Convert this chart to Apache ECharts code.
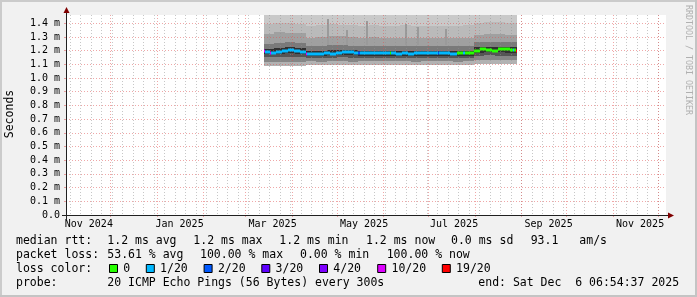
<!DOCTYPE html>
<html><head><meta charset="utf-8">
<script src="https://cdn.jsdelivr.net/npm/echarts@6/dist/echarts.min.js"></script>
<style>html,body{margin:0;padding:0;background:#f1f1f1}#c{width:697px;height:297px}</style>
</head><body><div id="c"></div><script>
// ---------- data ----------
const viewStart = '2024-11-01T06:54:37';
const viewEnd = '2025-12-06T06:54:37';
const yTicks = [0, 0.1, 0.2, 0.3, 0.4, 0.5, 0.6, 0.7, 0.8, 0.9, 1.0, 1.1, 1.2, 1.3, 1.4];
const yTickLabels = ['0.0', '0.1 m', '0.2 m', '0.3 m', '0.4 m', '0.5 m', '0.6 m', '0.7 m', '0.8 m', '0.9 m', '1.0 m', '1.1 m', '1.2 m', '1.3 m', '1.4 m'];
const yMax = 1.46;
const xLabelDates = ['2024-11-16T12:00:00', '2025-01-16T00:00:00', '2025-03-19T00:00:00', '2025-05-19T00:00:00', '2025-07-18T00:00:00', '2025-09-19T00:00:00', '2025-11-19T00:00:00'];
const xLabels = ['Nov 2024', 'Jan 2025', 'Mar 2025', 'May 2025', 'Jul 2025', 'Sep 2025', 'Nov 2025'];
const monthStarts = ['2024-12-01', '2025-01-01', '2025-02-01', '2025-03-01', '2025-04-01', '2025-05-01', '2025-06-01', '2025-07-01', '2025-08-01', '2025-09-01', '2025-10-01', '2025-11-01', '2025-12-01'];
const firstMonday = '2024-11-04';

// smoke (sorted ping distribution) per 7-day bucket
const smokeDates = ['2025-03-13','2025-03-20','2025-03-27','2025-04-03','2025-04-10','2025-04-17','2025-04-24','2025-05-01','2025-05-08','2025-05-15','2025-05-22','2025-05-29','2025-06-05','2025-06-12','2025-06-19','2025-06-26','2025-07-03','2025-07-10','2025-07-17','2025-07-24','2025-07-31','2025-08-07','2025-08-14','2025-08-21'];
const dataEnd = '2025-08-29T04:00:00';
const smokeMin    = [1.085,1.088,1.090,1.086, 1.096,1.094,1.097,1.095,1.093,1.096,1.094,1.097,1.095,1.096,1.094,1.096,1.095,1.097,1.094,1.096, 1.102,1.100,1.103,1.101];
const smokeLow    = [1.115,1.118,1.120,1.117, 1.122,1.120,1.124,1.121,1.119,1.123,1.121,1.124,1.122,1.121,1.120,1.123,1.121,1.122,1.120,1.121, 1.132,1.130,1.134,1.131];
const smokeLowMid = [1.150,1.152,1.155,1.151, 1.145,1.147,1.148,1.150,1.149,1.147,1.146,1.148,1.147,1.146,1.148,1.147,1.146,1.147,1.145,1.146, 1.162,1.165,1.163,1.164];
const smokeLowIn  = [1.175,1.178,1.182,1.176, 1.160,1.162,1.165,1.168,1.166,1.163,1.164,1.162,1.161,1.162,1.160,1.161,1.162,1.161,1.160,1.160, 1.185,1.188,1.187,1.186];
const smokeUpIn   = [1.215,1.222,1.225,1.218, 1.195,1.198,1.202,1.205,1.202,1.198,1.200,1.199,1.197,1.198,1.197,1.198,1.198,1.197,1.196,1.199, 1.228,1.230,1.229,1.228];
const smokeUpMid  = [1.250,1.258,1.262,1.252, 1.232,1.236,1.240,1.238,1.236,1.233,1.235,1.234,1.232,1.233,1.232,1.233,1.234,1.231,1.232,1.233, 1.262,1.265,1.263,1.261];
const smokeUpOut  = [1.320,1.335,1.330,1.325, 1.290,1.300,1.310,1.305,1.298,1.295,1.300,1.292,1.290,1.295,1.290,1.293,1.292,1.290,1.291,1.294, 1.315,1.320,1.318,1.312];
const smokeHigh   = [1.395,1.400,1.398,1.392, 1.380,1.385,1.392,1.388,1.384,1.380,1.386,1.382,1.381,1.384,1.380,1.383,1.382,1.380,1.381,1.384, 1.405,1.410,1.408,1.404];
const smokeMax    = [1.46,1.46,1.46,1.46, 1.46,1.46,1.46,1.46,1.46,1.46,1.46,1.46,1.46,1.46,1.46,1.46,1.46,1.46,1.46,1.46, 1.46,1.46,1.46,1.46];

// isolated tall smoke columns
const spikeDates = ['2025-04-24','2025-05-07','2025-05-20','2025-06-15','2025-06-23','2025-07-12'];
const spikeBase  = [1.24, 1.24, 1.24, 1.24, 1.24, 1.24];
const spikeTops  = [1.43, 1.35, 1.415, 1.395, 1.37, 1.36];

// median rtt segments (start date, value, lost pings of 20)
const medDates = ['2025-03-13','2025-03-14','2025-03-17','2025-03-18','2025-03-21','2025-03-25','2025-03-29','2025-04-02','2025-04-06','2025-04-10','2025-04-11','2025-04-14','2025-04-22','2025-04-26','2025-04-30','2025-05-04','2025-05-08','2025-05-12','2025-05-15','2025-05-16','2025-05-20','2025-05-24','2025-05-28','2025-06-01','2025-06-05','2025-06-06','2025-06-09','2025-06-13','2025-06-17','2025-06-21','2025-07-07','2025-07-08','2025-07-11','2025-07-15','2025-07-20','2025-07-24','2025-07-25','2025-07-31','2025-08-04','2025-08-08','2025-08-12','2025-08-16','2025-08-24','2025-08-26','2025-08-27','2025-08-28'];
const medVals  = [1.200,1.191,1.186,1.186,1.191,1.196,1.205,1.196,1.191,1.174,1.174,1.176,1.181,1.176,1.186,1.191,1.188,1.181,1.181,1.181,1.183,1.181,1.186,1.181,1.181,1.181,1.176,1.181,1.176,1.181,1.181,1.181,1.179,1.176,1.181,1.181,1.181,1.200,1.210,1.205,1.200,1.210,1.205,1.205,1.205,1.200];
const medLoss  = [10,1,10,1,1,1,1,1,1,10,1,1,1,1,1,1,1,1,2,1,1,1,1,1,0,1,1,1,1,1,2,1,1,1,0,1,0,0,0,0,0,0,0,1,0,19];

const lossLevels = [0, 1, 2, 3, 4, 10, 19];
const lossLabels = ['0', '1/20', '2/20', '3/20', '4/20', '10/20', '19/20'];
const lossColors = ['#26ff00', '#00b8ff', '#0059ff', '#5e00ff', '#7e00ff', '#dd00ff', '#ff0000'];

const legendRows = [
  [['median rtt:', 16], ['1.2 ms avg', 107.3], ['1.2 ms max', 193.3], ['1.2 ms min', 279.3], ['1.2 ms now', 366], ['0.0 ms sd', 451], ['93.1', 530.7], ['am/s', 579.3]],
  [['packet loss:', 16], ['53.61 % avg', 107.3], ['100.00 % max', 200], ['0.00 % min', 300], ['100.00 % now', 386.7]],
  [['loss color:', 16]],
  [['probe:', 16], ['20 ICMP Echo Pings (56 Bytes) every 300s', 107.3], ['end: Sat Dec  6 06:54:37 2025', 478.3]]
];
const lossBoxX = [109, 145.8, 203.6, 261.3, 319, 377.2, 441.8];
const rowY = [241, 255.3, 269, 283.3];

// ---------- build ----------
function T(s) { return Date.parse(s.length === 10 ? s + 'T00:00:00Z' : s + 'Z'); }
const DAY = 86400000;
const xMin = T(viewStart), xMax = T(viewEnd);
const mondays = [];
for (let v = T(firstMonday); v <= xMax; v += 7 * DAY) mondays.push(v);
const monthVals = monthStarts.map(T);
const labelVals = xLabelDates.map(T);

const smokeData = smokeDates.map((d, i) => [T(d), i + 1 < smokeDates.length ? T(smokeDates[i + 1]) : T(dataEnd),
  smokeMin[i], smokeLow[i], smokeLowMid[i], smokeLowIn[i], smokeUpIn[i], smokeUpMid[i], smokeUpOut[i], smokeHigh[i], smokeMax[i]]);
const smokeColors = ['#b2b2b2', '#868686', '#555555', '#303030', '#7a7a7a', '#a0a0a0', '#bababa', '#c9c9c9'];
const spikeData = spikeDates.map((d, i) => [T(d), T(d) + 1.3 * DAY, spikeBase[i], spikeTops[i]]);
const medData = medDates.map((d, i) => [T(d), i + 1 < medDates.length ? T(medDates[i + 1]) : T(dataEnd), medVals[i], medLoss[i]]);

const G = { left: 66, top: 15, width: 600, height: 200 };
const FONT = '"DejaVu Sans Mono", monospace';
const AXIS = '#202020';

function colorForLoss(l) { const k = lossLevels.indexOf(l); return lossColors[k < 0 ? 1 : k]; }

const chart = echarts.init(document.getElementById('c'), null, { renderer: 'canvas' });

const B = G.top + G.height;
const graphics = [
  { type: 'rect', shape: { x: 0, y: 0, width: 697, height: 2 }, style: { fill: '#cbcbcb' }, silent: true },
  { type: 'rect', shape: { x: 0, y: 0, width: 2, height: 297 }, style: { fill: '#cbcbcb' }, silent: true },
  { type: 'rect', shape: { x: 0, y: 295, width: 697, height: 2 }, style: { fill: '#c4c4c4' }, silent: true },
  { type: 'rect', shape: { x: 695, y: 0, width: 2, height: 297 }, style: { fill: '#c4c4c4' }, silent: true },
  // axis overshoots (rrdtool draws both axes 4px past the origin) and arrows
  { type: 'line', shape: { x1: G.left + 0.5, y1: G.top + 1, x2: G.left + 0.5, y2: G.top - 3 }, style: { stroke: AXIS, lineWidth: 1 }, z: 10 },
  { type: 'line', shape: { x1: G.left + 0.5, y1: B, x2: G.left + 0.5, y2: B + 4 }, style: { stroke: AXIS, lineWidth: 1 }, z: 10 },
  { type: 'line', shape: { x1: G.left - 4, y1: B + 0.5, x2: G.left + 1, y2: B + 0.5 }, style: { stroke: AXIS, lineWidth: 1 }, z: 10 },
  { type: 'polygon', shape: { points: [[G.left - 2.5, G.top - 2], [G.left + 3.5, G.top - 2], [G.left + 0.5, G.top - 8]] }, style: { fill: '#800000' }, z: 10 },
  { type: 'line', shape: { x1: G.left + G.width - 1, y1: B + 0.5, x2: G.left + G.width + 3, y2: B + 0.5 }, style: { stroke: AXIS, lineWidth: 1 }, z: 10 },
  { type: 'polygon', shape: { points: [[G.left + G.width + 2, B - 2.5], [G.left + G.width + 2, B + 3.5], [G.left + G.width + 8, B + 0.5]] }, style: { fill: '#800000' }, z: 10 },
  { type: 'text', x: 10.5, y: 114, rotation: Math.PI / 2, style: { text: 'Seconds', font: '11.5px ' + FONT, fill: '#000', align: 'center', verticalAlign: 'middle' } },
  { type: 'text', x: 688, y: 60, rotation: -Math.PI / 2, style: { text: 'RRDTOOL / TOBI OETIKER', font: '8.3px ' + FONT, fill: '#b0b0b0', align: 'center', verticalAlign: 'middle' } }
];
legendRows.forEach((row, r) => row.forEach(([txt, x]) => graphics.push({
  type: 'text', x: x, y: rowY[r], style: { text: txt, font: '11.5px ' + FONT, fill: '#000', align: 'left', verticalAlign: 'middle' }
})));
lossLabels.forEach((lab, k) => {
  graphics.push({ type: 'rect', shape: { x: lossBoxX[k] + 0.5, y: 264.5, width: 8, height: 8 }, style: { fill: lossColors[k], stroke: '#000', lineWidth: 1 } });
  graphics.push({ type: 'text', x: lossBoxX[k] + 14.3, y: rowY[2], style: { text: lab, font: '11.5px ' + FONT, fill: '#000', align: 'left', verticalAlign: 'middle' } });
});

const R = Math.round;
function bandRect(api, x0, x1, a, b, fill) {
  const p0 = api.coord([x0, a]), p1 = api.coord([x1, b]);
  const left = R(p0[0]), right = R(p1[0]), bot = R(p0[1]), top = R(p1[1]);
  return { type: 'rect', shape: { x: left, y: top, width: right - left, height: bot - top }, style: { fill: fill } };
}

const MGRID = 'rgba(224,80,80,0.5)';
const GRID = 'rgba(143,143,143,0.5)';

chart.setOption({
  animation: false,
  backgroundColor: '#f1f1f1',
  grid: { left: G.left, top: G.top, width: G.width, height: G.height, containLabel: false, outerBoundsMode: 'none', backgroundColor: '#ffffff', show: true, borderWidth: 0 },
  xAxis: [
    { type: 'value', min: xMin, max: xMax, position: 'bottom', z: 4,
      axisLine: { show: true, onZero: false, lineStyle: { color: AXIS, width: 1 } },
      axisTick: { show: false },
      splitLine: { show: false },
      axisLabel: { show: true, customValues: labelVals, margin: 4, fontSize: 10, fontFamily: FONT, color: '#000',
        formatter: v => { const k = labelVals.findIndex(u => Math.abs(u - v) < DAY); return k < 0 ? '' : xLabels[k]; } } },
    { type: 'value', min: xMin, max: xMax, position: 'bottom', z: 2,
      axisLine: { show: false }, axisLabel: { show: false },
      axisTick: { show: false, customValues: mondays },
      splitLine: { show: true, lineStyle: { color: GRID, width: 1, type: [1, 2] } } },
    { type: 'value', min: xMin, max: xMax, position: 'bottom', z: 2,
      axisLine: { show: false }, axisLabel: { show: false },
      axisTick: { show: true, customValues: monthVals, length: 2, inside: false, lineStyle: { color: MGRID } },
      splitLine: { show: true, lineStyle: { color: MGRID, width: 1, type: [1, 2] } } }
  ],
  yAxis: [
    { type: 'value', min: 0, max: yMax, z: 4,
      axisLine: { show: true, onZero: false, lineStyle: { color: AXIS, width: 1 } },
      axisTick: { show: true, customValues: yTicks, length: 2, lineStyle: { color: MGRID } },
      splitLine: { show: true, lineStyle: { color: MGRID, width: 1, type: [1, 2] } },
      axisLabel: { customValues: yTicks, margin: 6, fontSize: 10, fontFamily: FONT, color: '#000',
        formatter: v => { const k = yTicks.findIndex(u => Math.abs(u - v) < 1e-6); return k < 0 ? '' : yTickLabels[k]; } } }
  ],
  series: [
    { type: 'custom', name: 'smoke', xAxisIndex: 0, yAxisIndex: 0, z: 1, silent: true, clip: true,
      data: smokeData,
      encode: { x: [0, 1], y: [2, 10] },
      renderItem: (params, api) => {
        const x0 = api.value(0), x1 = api.value(1);
        const lv = [2, 3, 4, 5, 6, 7, 8, 9, 10].map(i => api.value(i));
        const ch = [];
        for (let j = 0; j < lv.length - 1; j++) ch.push(bandRect(api, x0, x1, lv[j], lv[j + 1], smokeColors[j]));
        return { type: 'group', children: ch };
      } },
    { type: 'custom', name: 'spikes', xAxisIndex: 0, yAxisIndex: 0, z: 1, silent: true, clip: true,
      data: spikeData,
      encode: { x: [0, 1], y: [2, 3] },
      renderItem: (params, api) => bandRect(api, api.value(0), api.value(1), api.value(2), api.value(3), '#9a9a9a') },
    { type: 'custom', name: 'median', xAxisIndex: 0, yAxisIndex: 0, z: 5, silent: true,
      data: medData,
      encode: { x: [0, 1], y: 2 },
      renderItem: (params, api) => {
        const p0 = api.coord([api.value(0), api.value(2)]), p1 = api.coord([api.value(1), api.value(2)]);
        const l = R(p0[0]), r = R(p1[0]), yc = R(p0[1]);
        return { type: 'rect', shape: { x: l, y: yc - 1.5, width: r - l, height: 3 }, style: { fill: colorForLoss(api.value(3)) } };
      } }
  ],
  graphic: graphics
});
</script></body></html>
